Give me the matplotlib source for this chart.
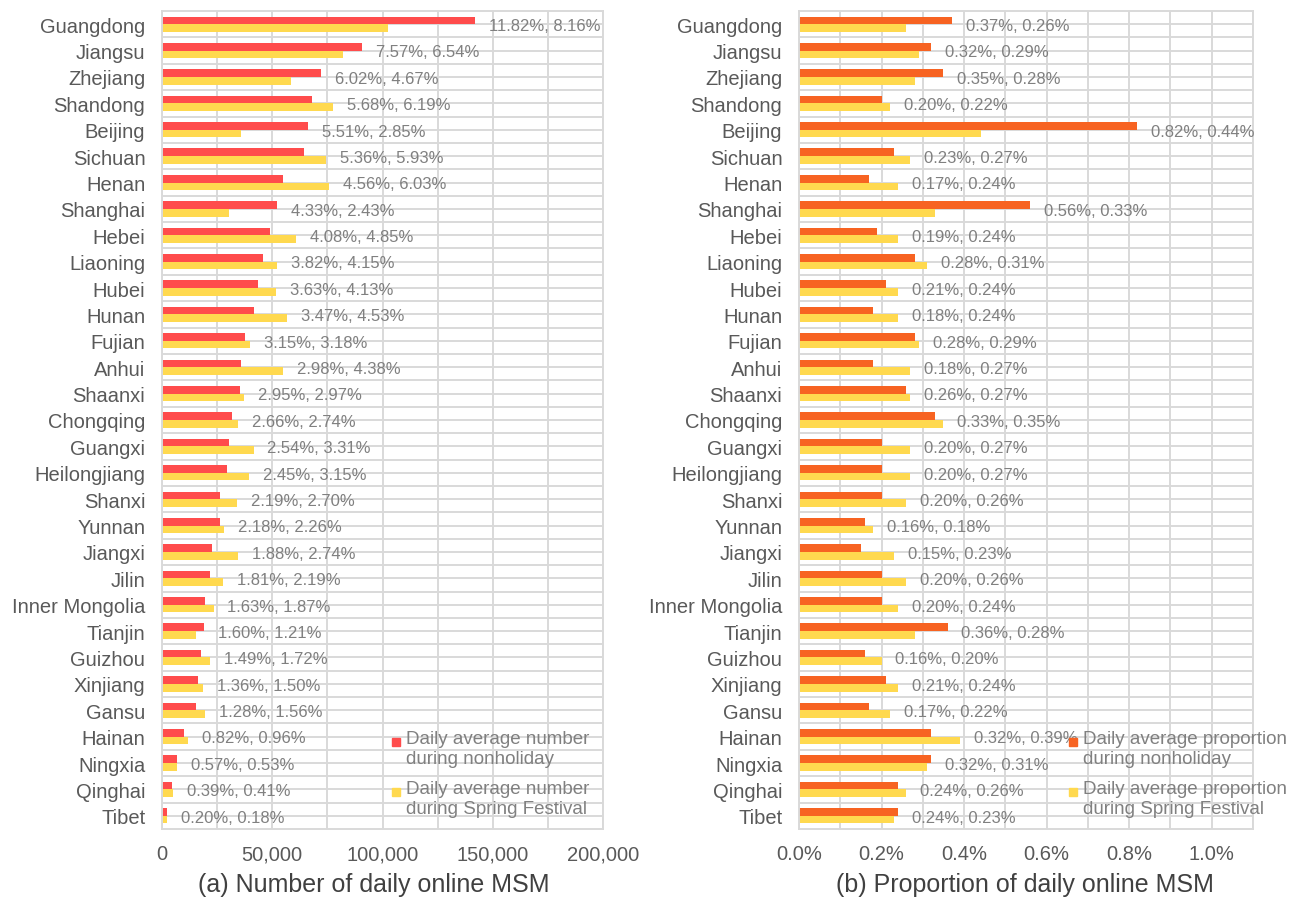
"""
Online MSM by province: daily counts and proportions, nonholiday vs Spring Festival.
"""

import numpy as np
import matplotlib.pyplot as plt
from matplotlib.ticker import FuncFormatter, MultipleLocator

plt.rcParams['font.family'] = ['Liberation Sans', 'DejaVu Sans']

# ── Data ───────────────────────────────────────────────────────
provinces = ["Guangdong", "Jiangsu", "Zhejiang", "Shandong", "Beijing", "Sichuan",
             "Henan", "Shanghai", "Hebei", "Liaoning", "Hubei", "Hunan", "Fujian",
             "Anhui", "Shaanxi", "Chongqing", "Guangxi", "Heilongjiang", "Shanxi",
             "Yunnan", "Jiangxi", "Jilin", "Inner Mongolia", "Tianjin", "Guizhou",
             "Xinjiang", "Gansu", "Hainan", "Ningxia", "Qinghai", "Tibet"]

# daily average number of online MSM
num_nonholiday = [141800, 90800, 72200, 68200, 66100, 64300, 54700, 52000, 49000,
                  45800, 43600, 41600, 37800, 35800, 35400, 31900, 30500, 29400,
                  26300, 26200, 22600, 21700, 19600, 19200, 17900, 16300, 15400,
                  9800, 6800, 4700, 2400]
num_festival = [102300, 82000, 58600, 77600, 35700, 74400, 75600, 30500, 60800,
                52000, 51800, 56800, 39900, 54900, 37200, 34400, 41500, 39500,
                33900, 28300, 34400, 27500, 23400, 15200, 21600, 18800, 19600,
                12000, 6600, 5100, 2300]

# share of the national total (%), used for the labels in panel (a)
share_nonholiday = [11.82, 7.57, 6.02, 5.68, 5.51, 5.36, 4.56, 4.33, 4.08, 3.82,
                    3.63, 3.47, 3.15, 2.98, 2.95, 2.66, 2.54, 2.45, 2.19, 2.18,
                    1.88, 1.81, 1.63, 1.60, 1.49, 1.36, 1.28, 0.82, 0.57, 0.39, 0.20]
share_festival = [8.16, 6.54, 4.67, 6.19, 2.85, 5.93, 6.03, 2.43, 4.85, 4.15,
                  4.13, 4.53, 3.18, 4.38, 2.97, 2.74, 3.31, 3.15, 2.70, 2.26,
                  2.74, 2.19, 1.87, 1.21, 1.72, 1.50, 1.56, 0.96, 0.53, 0.41, 0.18]

# proportion of online MSM in the population (%)
prop_nonholiday = [0.37, 0.32, 0.35, 0.20, 0.82, 0.23, 0.17, 0.56, 0.19, 0.28,
                   0.21, 0.18, 0.28, 0.18, 0.26, 0.33, 0.20, 0.20, 0.20, 0.16,
                   0.15, 0.20, 0.20, 0.36, 0.16, 0.21, 0.17, 0.32, 0.32, 0.24, 0.24]
prop_festival = [0.26, 0.29, 0.28, 0.22, 0.44, 0.27, 0.24, 0.33, 0.24, 0.31,
                 0.24, 0.24, 0.29, 0.27, 0.27, 0.35, 0.27, 0.27, 0.26, 0.18,
                 0.23, 0.26, 0.24, 0.28, 0.20, 0.24, 0.22, 0.39, 0.31, 0.26, 0.23]

# ── Styling ────────────────────────────────────────────────────
RED_A = '#FF4C4C'
RED_B = '#F76322'
YELLOW = '#FFD94F'
GRID = '#D9D9D9'
DARK = '#595959'
LIGHT = '#808080'
BAR_H = 0.29

fig = plt.figure(figsize=(13.06, 9.12), dpi=100)
ax_a = fig.add_axes([162 / 1306, 82 / 912, 441 / 1306, 818 / 912])
ax_b = fig.add_axes([799 / 1306, 82 / 912, 454 / 1306, 818 / 912])

y = np.arange(len(provinces))


def style_axis(ax, xmax, major, minor, fmt):
    ax.set_xlim(0, xmax)
    ax.set_ylim(len(provinces) - 0.5, -0.5)
    ax.set_yticks(y)
    ax.set_yticklabels(provinces, fontsize=14.5, color=DARK)
    ax.set_yticks(y[:-1] + 0.5, minor=True)
    ax.xaxis.set_major_locator(MultipleLocator(major))
    ax.xaxis.set_minor_locator(MultipleLocator(minor))
    ax.xaxis.set_major_formatter(FuncFormatter(fmt))
    ax.tick_params(axis='x', which='both', length=0, labelsize=14.5, labelcolor=DARK, pad=11)
    ax.tick_params(axis='y', which='both', length=0, pad=12)
    ax.grid(True, which='both', color=GRID, linewidth=1.4)
    ax.set_axisbelow(True)
    for sp in ax.spines.values():
        sp.set_color(GRID)
        sp.set_linewidth(1.4)


# ── (a) number of daily online MSM ─────────────────────────────
ax_a.barh(y - BAR_H / 2, num_nonholiday, height=BAR_H, color=RED_A)
ax_a.barh(y + BAR_H / 2, num_festival, height=BAR_H, color=YELLOW)
style_axis(ax_a, 200000, 50000, 25000, lambda v, p: f"{v:,.0f}")
for i in range(len(provinces)):
    ax_a.annotate(f"{share_nonholiday[i]:.2f}%, {share_festival[i]:.2f}%",
                  (max(num_nonholiday[i], num_festival[i]), y[i] + 0.05),
                  xytext=(10, 0), textcoords='offset points',
                  va='center', ha='left', fontsize=12, color=LIGHT)

# ── (b) proportion of daily online MSM ─────────────────────────
ax_b.barh(y - BAR_H / 2, prop_nonholiday, height=BAR_H, color=RED_B)
ax_b.barh(y + BAR_H / 2, prop_festival, height=BAR_H, color=YELLOW)
style_axis(ax_b, 1.1, 0.2, 0.1, lambda v, p: f"{v:.1f}%")
for i in range(len(provinces)):
    ax_b.annotate(f"{prop_nonholiday[i]:.2f}%, {prop_festival[i]:.2f}%",
                  (max(prop_nonholiday[i], prop_festival[i]), y[i] + 0.05),
                  xytext=(10, 0), textcoords='offset points',
                  va='center', ha='left', fontsize=12, color=LIGHT)

# legends: square marker beside a two-line label, no frame (pixel positions)
for (x0, names, red) in [
        (396, ["Daily average number\nduring nonholiday",
               "Daily average number\nduring Spring Festival"], RED_A),
        (1073, ["Daily average proportion\nduring nonholiday",
                "Daily average proportion\nduring Spring Festival"], RED_B)]:
    for k, (col, txt) in enumerate(zip([red, YELLOW], names)):
        ypix = 912 - 743 - k * 50
        fig.patches.append(plt.Rectangle(((x0 - 4) / 1306, (ypix - 4) / 912),
                                         8 / 1306, 8 / 912, color=col,
                                         transform=fig.transFigure))
        fig.text((x0 + 10) / 1306, (ypix + 12) / 912, txt, fontsize=13.5,
                 color=LIGHT, va='top', ha='left', linespacing=1.25)

# captions
fig.text(374 / 1306, 1 - 885 / 912, "(a) Number of daily online MSM",
         fontsize=18, color='#404040', ha='center', va='center')
fig.text(1025 / 1306, 1 - 885 / 912, "(b) Proportion of daily online MSM",
         fontsize=18, color='#404040', ha='center', va='center')

fig.savefig("out.png", dpi=100)
